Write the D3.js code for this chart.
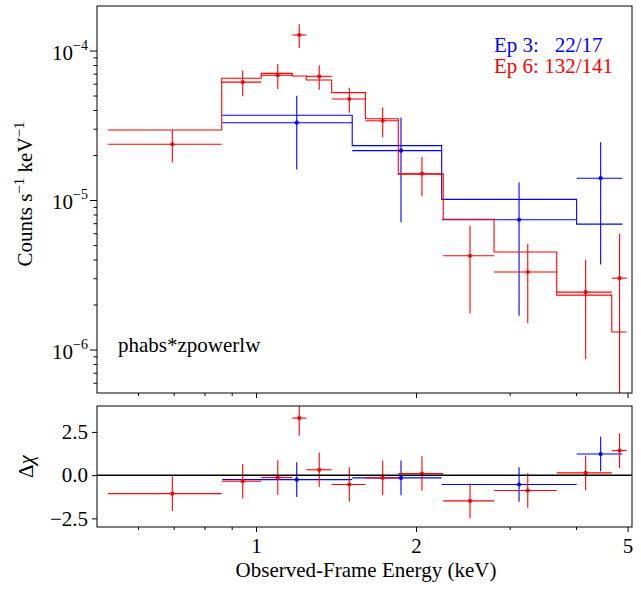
<!DOCTYPE html>
<html>
<head>
<meta charset="utf-8">
<title>Spectrum fit</title>
<script src="https://cdn.jsdelivr.net/npm/d3@7"></script>
<style>
  body { margin: 0; background: #fff; }
</style>
</head>
<body>
<div id="chart"></div>
<script>
// Ep 6 (red) : bins, counts, errors, model, residuals
const ep6Energy = [0.696, 0.944, 1.099, 1.206, 1.315, 1.498, 1.731, 2.052, 2.527, 3.245, 4.17, 4.83];
const ep6BinLo  = [0.527, 0.862, 1.023, 1.170, 1.243, 1.388, 1.606, 1.852, 2.25, 2.804, 3.679, 4.67];
const ep6BinHi  = [0.862, 1.023, 1.170, 1.243, 1.388, 1.606, 1.852, 2.25, 2.804, 3.679, 4.67, 4.98];
const ep6Counts = [2.36e-5, 6.15e-5, 6.83e-5, 1.27e-4, 6.72e-5, 4.74e-5, 3.39e-5, 1.50e-5, 4.24e-6, 3.30e-6, 2.42e-6, 3.0e-6];
const ep6Err    = [0.58e-5, 1.2e-5, 1.3e-5, 2.3e-5, 1.26e-5, 0.9e-5, 0.76e-5, 0.44e-5, 2.5e-6, 1.8e-6, 1.56e-6, 2.93e-6];
const ep6Model  = [2.94e-5, 6.52e-5, 7.03e-5, 6.75e-5, 6.35e-5, 5.23e-5, 3.50e-5, 1.49e-5, 7.43e-6, 4.49e-6, 2.31e-6, 1.31e-6];
const ep6Resid  = [-1.07, -0.35, -0.14, 3.30, 0.31, -0.54, -0.16, 0.09, -1.49, -0.89, 0.13, 1.42];

// Ep 3 (blue)
const ep3Energy = [1.193, 1.874, 3.125, 4.45];
const ep3BinLo  = [0.864, 1.517, 2.235, 4.01];
const ep3BinHi  = [1.517, 2.235, 4.01, 4.89];
const ep3Counts = [3.29e-5, 2.14e-5, 7.38e-6, 1.40e-5];
const ep3Err    = [1.69e-5, 1.43e-5, 5.7e-6, 1.03e-5];
const ep3Model  = [3.69e-5, 2.31e-5, 1.01e-5, 6.9e-6];
const ep3Resid  = [-0.26, -0.16, -0.54, 1.22];

const xMajor = [1, 2, 5];
const xMinor = [0.6, 0.7, 0.8, 0.9, 3, 4];
const yMajor = [1e-4, 1e-5, 1e-6];
const yMajorExp = ["−4", "−5", "−6"];
const yMinor = [6e-7, 7e-7, 8e-7, 9e-7, 2e-6, 3e-6, 4e-6, 5e-6, 6e-6, 7e-6, 8e-6, 9e-6,
                2e-5, 3e-5, 4e-5, 5e-5, 6e-5, 7e-5, 8e-5, 9e-5];
const rTicks = [-2.5, 0, 2.5];

const width = 641, height = 592;
const left = 97, right = 632;
const top1 = 6, bot1 = 393, top2 = 406, bot2 = 527;
const fs = 21;
const serif = "'Liberation Serif', 'Times New Roman', Times, 'DejaVu Serif', serif";

const x = d3.scaleLog().domain([0.5022, 5.097]).range([left, right]);
const y = d3.scaleLog().domain([5.12e-7, 1.985e-4]).range([bot1, top1]);
const yr = d3.scaleLinear().domain([-3, 4]).range([bot2, top2]);

const svg = d3.select("#chart").append("svg")
  .attr("width", width).attr("height", height)
  .attr("font-family", serif);
svg.append("rect").attr("width", width).attr("height", height).attr("fill", "#fff");

const defs = svg.append("defs");
defs.append("clipPath").attr("id", "clipTop").append("rect")
  .attr("x", left).attr("y", top1).attr("width", right - left).attr("height", bot1 - top1);
defs.append("clipPath").attr("id", "clipBot").append("rect")
  .attr("x", left).attr("y", top2).attr("width", right - left).attr("height", bot2 - top2);

const gTop = svg.append("g").attr("clip-path", "url(#clipTop)");
const gBot = svg.append("g").attr("clip-path", "url(#clipBot)");

function series(energy, lo, hi, counts, err, model, resid, color) {
  const rows = energy.map((e, i) => ({e, lo: lo[i], hi: hi[i], c: counts[i], s: err[i], m: model[i], r: resid[i]}));

  // model steps
  const pts = [];
  rows.forEach(d => { pts.push([d.lo, d.m]); pts.push([d.hi, d.m]); });
  gTop.append("path")
    .attr("d", d3.line().x(d => x(d[0])).y(d => y(d[1]))(pts))
    .attr("fill", "none").attr("stroke", color).attr("stroke-width", 1.1);

  // data
  const gd = gTop.append("g").attr("stroke", color).attr("stroke-width", 1.1);
  gd.selectAll(".xe").data(rows).join("line")
    .attr("x1", d => x(d.lo)).attr("x2", d => x(d.hi))
    .attr("y1", d => y(d.c)).attr("y2", d => y(d.c));
  gd.selectAll(".ye").data(rows).join("line")
    .attr("x1", d => x(d.e)).attr("x2", d => x(d.e))
    .attr("y1", d => y(d.c + d.s))
    .attr("y2", d => y(Math.max(d.c - d.s, 1e-8)));
  gTop.append("g").selectAll("circle").data(rows).join("circle")
    .attr("cx", d => x(d.e)).attr("cy", d => y(d.c)).attr("r", 2.1).attr("fill", color);

  // residuals
  const gr = gBot.append("g").attr("stroke", color).attr("stroke-width", 1.1);
  gr.selectAll(".xr").data(rows).join("line")
    .attr("x1", d => x(d.lo)).attr("x2", d => x(d.hi))
    .attr("y1", d => yr(d.r)).attr("y2", d => yr(d.r));
  gr.selectAll(".yr").data(rows).join("line")
    .attr("x1", d => x(d.e)).attr("x2", d => x(d.e))
    .attr("y1", d => yr(d.r + 1)).attr("y2", d => yr(d.r - 1));
  gBot.append("g").selectAll("circle").data(rows).join("circle")
    .attr("cx", d => x(d.e)).attr("cy", d => yr(d.r)).attr("r", 2.1).attr("fill", color);
}

series(ep3Energy, ep3BinLo, ep3BinHi, ep3Counts, ep3Err, ep3Model, ep3Resid, "#0000ff");
series(ep6Energy, ep6BinLo, ep6BinHi, ep6Counts, ep6Err, ep6Model, ep6Resid, "#ff0000");

// zero line
gBot.append("line")
  .attr("x1", left).attr("x2", right).attr("y1", yr(0)).attr("y2", yr(0))
  .attr("stroke", "#000").attr("stroke-width", 1.5);

// axes
function styleAxis(g) {
  g.attr("font-family", serif).attr("font-size", fs);
  g.select(".domain").remove();
  g.selectAll("line").attr("stroke", "#000").attr("stroke-width", 1);
  g.selectAll("text").attr("fill", "#000");
}

svg.append("g").attr("transform", `translate(0,${bot1})`)
  .call(d3.axisBottom(x).tickValues(xMajor).tickSize(5).tickFormat(""))
  .call(styleAxis);
svg.append("g").attr("transform", `translate(0,${bot1})`)
  .call(d3.axisBottom(x).tickValues(xMinor).tickSize(3).tickFormat(""))
  .call(styleAxis);

svg.append("g").attr("transform", `translate(0,${bot2})`)
  .call(d3.axisBottom(x).tickValues(xMajor).tickSize(5).tickPadding(6).tickFormat(d3.format("d")))
  .call(styleAxis);
svg.append("g").attr("transform", `translate(0,${bot2})`)
  .call(d3.axisBottom(x).tickValues(xMinor).tickSize(3).tickFormat(""))
  .call(styleAxis);

svg.append("g").attr("transform", `translate(${left},0)`)
  .call(d3.axisLeft(y).tickValues(yMajor).tickSize(7).tickFormat(""))
  .call(styleAxis);
svg.append("g").attr("transform", `translate(${left},0)`)
  .call(d3.axisLeft(y).tickValues(yMinor).tickSize(3.5).tickFormat(""))
  .call(styleAxis);

// 10^n labels
const yLab = svg.append("g").selectAll("text").data(yMajor).join("text")
  .attr("x", 88).attr("y", d => y(d) + 9.3)
  .attr("text-anchor", "end").attr("font-size", fs);
yLab.append("tspan").text("10");
yLab.append("tspan").attr("dy", -10).attr("font-size", 14).text((d, i) => yMajorExp[i]);

svg.append("g").attr("transform", `translate(${left},0)`)
  .call(d3.axisLeft(yr).tickValues(rTicks).tickSize(5).tickPadding(4).tickFormat(d3.format(".1f")))
  .call(styleAxis)
  .call(g => g.selectAll("text").text(d => d3.format(".1f")(d).replace("-", "−")));

// frames
[[top1, bot1], [top2, bot2]].forEach(([t, b]) => {
  svg.append("rect").attr("x", left).attr("y", t).attr("width", right - left).attr("height", b - t)
    .attr("fill", "none").attr("stroke", "#000").attr("stroke-width", 1);
});

// labels
svg.append("text").attr("x", 366).attr("y", 577).attr("text-anchor", "middle")
  .attr("font-size", fs).text("Observed-Frame Energy (keV)");

const yl = svg.append("text").attr("transform", "translate(31.5,194) rotate(-90)")
  .attr("text-anchor", "middle").attr("font-size", fs);
yl.append("tspan").text("Counts s");
yl.append("tspan").attr("dy", -8).attr("font-size", 15).text("−1");
yl.append("tspan").attr("dy", 8).text(" keV");
yl.append("tspan").attr("dy", -8).attr("font-size", 15).text("−1");

const dl = svg.append("text").attr("transform", "translate(33,466.5) rotate(-90)")
  .attr("text-anchor", "middle").attr("font-size", fs);
dl.append("tspan").text("Δ");
dl.append("tspan").attr("font-style", "italic").text("χ");

svg.append("text").attr("x", 494).attr("y", 51.7).attr("font-size", fs)
  .attr("fill", "#0000ff").attr("xml:space", "preserve").style("white-space", "pre")
  .text("Ep 3:   22/17");
svg.append("text").attr("x", 494).attr("y", 73.3).attr("font-size", fs)
  .attr("fill", "#ff0000").text("Ep 6: 132/141");
svg.append("text").attr("x", 118).attr("y", 351.7).attr("font-size", fs)
  .attr("fill", "#000").text("phabs*zpowerlw");
</script>
</body>
</html>
